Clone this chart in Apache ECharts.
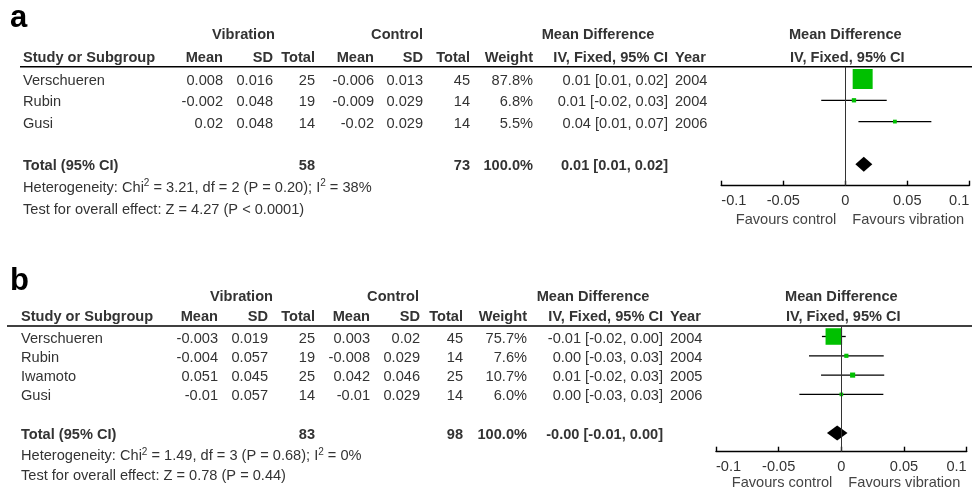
<!DOCTYPE html>
<html>
<head>
<meta charset="utf-8">
<script src="https://cdn.jsdelivr.net/npm/echarts@6/dist/echarts.min.js"></script>
<style>
  html, body { margin: 0; padding: 0; background: #fff; }
  #chart { width: 972px; height: 488px; }
</style>
</head>
<body>
<div id="chart"></div>
<script>
// ---------- Panel a ----------
const studiesA  = ['Verschueren', 'Rubin', 'Gusi'];
const yearsA    = [2004, 2004, 2006];
const vibMeanA  = [0.008, -0.002, 0.02];
const vibSdA    = [0.016, 0.048, 0.048];
const vibNA     = [25, 19, 14];
const ctlMeanA  = [-0.006, -0.009, -0.02];
const ctlSdA    = [0.013, 0.029, 0.029];
const ctlNA     = [45, 14, 14];
const weightA   = [87.8, 6.8, 5.5];
const mdA       = [0.014, 0.007, 0.040];
const loA       = [0.0067, -0.0194, 0.0106];
const hiA       = [0.0213, 0.0334, 0.0694];
const totalNA   = [58, 73];
const totalWA   = 100.0;
const totalEffA = [0.0149, 0.0081, 0.0218];   // pooled MD, lower, upper
const hetA      = ['3.21', '2', '0.20', '38'];  // Chi², df, P, I²
const overallA  = ['4.27', 'P < 0.0001'];

// ---------- Panel b ----------
const studiesB  = ['Verschueren', 'Rubin', 'Iwamoto', 'Gusi'];
const yearsB    = [2004, 2004, 2005, 2006];
const vibMeanB  = [-0.003, -0.004, 0.051, -0.01];
const vibSdB    = [0.019, 0.057, 0.045, 0.057];
const vibNB     = [25, 19, 25, 14];
const ctlMeanB  = [0.003, -0.008, 0.042, -0.01];
const ctlSdB    = [0.02, 0.029, 0.046, 0.029];
const ctlNB     = [45, 14, 25, 14];
const weightB   = [75.7, 7.6, 10.7, 6.0];
const mdB       = [-0.006, 0.004, 0.009, 0.000];
const loB       = [-0.0155, -0.0258, -0.0162, -0.0335];
const hiB       = [0.0035, 0.0338, 0.0342, 0.0335];
const totalNB   = [83, 98];
const totalWB   = 100.0;
const totalEffB = [-0.0033, -0.0115, 0.0049];
const hetB      = ['1.49', '3', '0.68', '0'];
const overallB  = ['0.78', 'P = 0.44'];

// Shared axis
const tickLabels = ['-0.1', '-0.05', '0', '0.05', '0.1'];
const axisMin = -0.1, axisMax = 0.1, axisStep = 0.05;

// ---------- styling / layout ----------
const FONT = '"Liberation Sans", Arial, Helvetica, sans-serif';
const FS = 14.6;
const TXT = '#333';
const GREEN = '#00c000';

const layoutA = {
  grid: { left: 721.3, top: 66.7, width: 248, height: 119 },
  yRange: [-0.577, 5.01],
  cols: [23, 223, 273, 315, 374, 423, 470, 533, 668, 675],
  head1Y: 35, head2Y: 58, groupRight: [275, 423], mdCenter: 598,
  ruleX0: 20, title: 'a', titleY: 18, favoursY: 219.5,
  totalRow: 4, hetRow: 5, testRow: 6.05
};
const layoutB = {
  grid: { left: 716, top: 326, width: 250.7, height: 125.7 },
  yRange: [-0.544, 5.97],
  cols: [21, 218, 268, 315, 370, 420, 463, 527, 663, 670],
  head1Y: 297, head2Y: 317, groupRight: [273, 419], mdCenter: 593,
  ruleX0: 7, title: 'b', titleY: 281, favoursY: 482.7,
  totalRow: 5, hetRow: 6.1, testRow: 7.1
};
const TEXT_DY = 2;

function f2(v) { return v.toFixed(2); }
function ciText(m, l, h) { return f2(m) + ' [' + f2(l) + ', ' + f2(h) + ']'; }
function pct(w) { return w.toFixed(1) + '%'; }

function buildTable(d, L) {
  const lines = [];
  d.studies.forEach((s, i) => {
    lines.push({ row: i, bold: false, cells: [
      [0, s], [1, String(d.vibMean[i])], [2, String(d.vibSd[i])], [3, String(d.vibN[i])],
      [4, String(d.ctlMean[i])], [5, String(d.ctlSd[i])], [6, String(d.ctlN[i])],
      [7, pct(d.weight[i])], [8, ciText(d.md[i], d.lo[i], d.hi[i])], [9, String(d.year[i])]
    ]});
  });
  lines.push({ row: L.totalRow, bold: true, cells: [
    [0, 'Total (95% CI)'], [3, String(d.totalN[0])], [6, String(d.totalN[1])],
    [7, pct(d.totalW)], [8, ciText(d.totalEff[0], d.totalEff[1], d.totalEff[2])]
  ]});
  lines.push({ row: L.hetRow, rich: true, cells: [
    [0, '{t|Heterogeneity: Chi}{s|2}{t| = ' + d.het[0] + ', df = ' + d.het[1] +
        ' (P = ' + d.het[2] + '); I}{s|2}{t| = ' + d.het[3] + '%}']
  ]});
  lines.push({ row: L.testRow, bold: false, cells: [
    [0, 'Test for overall effect: Z = ' + d.overall[0] + ' (' + d.overall[1] + ')']
  ]});
  return lines;
}

function tableRender(lines, L) {
  return function (params, api) {
    const line = lines[params.dataIndex];
    const y = api.coord([0, api.value(1)])[1] + TEXT_DY;
    const children = line.cells.map(([c, text]) => {
      const align = (c === 0 || c === 9) ? 'left' : 'right';
      const style = {
        text: text, fill: TXT, fontSize: FS, fontFamily: FONT,
        fontWeight: line.bold ? 'bold' : 'normal', align: align, verticalAlign: 'middle'
      };
      if (line.rich) {
        style.rich = {
          t: { fill: TXT, fontSize: FS, fontFamily: FONT, lineHeight: 18 },
          s: { fill: TXT, fontSize: 10, fontFamily: FONT, lineHeight: 10, verticalAlign: 'top' }
        };
      }
      return { type: 'text', x: L.cols[c], y: y, style: style };
    });
    return { type: 'group', children: children };
  };
}

// Study marks: CI whisker plus a square sized by the study weight
function forestRender(params, api) {
  const row = api.value(1);
  const c = api.coord([api.value(0), row]);
  const pLo = api.coord([api.value(2), row]);
  const pHi = api.coord([api.value(3), row]);
  const rowPx = api.size([0, 1])[1];
  const s = 0.064 * rowPx * Math.pow(api.value(4), 0.6);
  return { type: 'group', children: [
    { type: 'line', shape: { x1: pLo[0], y1: c[1], x2: pHi[0], y2: c[1] },
      style: { stroke: '#000', lineWidth: 1.3 } },
    { type: 'rect', shape: { x: c[0] - s / 2, y: c[1] - s / 2, width: s, height: s },
      style: { fill: GREEN } }
  ]};
}

// Pooled estimate drawn as a diamond spanning its CI
function diamondRender(params, api) {
  const row = api.value(1);
  const m = api.coord([api.value(0), row]);
  const l = api.coord([api.value(2), row]);
  const h = api.coord([api.value(3), row]);
  const hh = 7.5;
  return { type: 'polygon',
    shape: { points: [[l[0], m[1]], [m[0], m[1] - hh], [h[0], m[1]], [m[0], m[1] + hh]] },
    style: { fill: '#000' } };
}

const panels = [
  { L: layoutA, d: { studies: studiesA, year: yearsA, vibMean: vibMeanA, vibSd: vibSdA, vibN: vibNA,
      ctlMean: ctlMeanA, ctlSd: ctlSdA, ctlN: ctlNA, weight: weightA, md: mdA, lo: loA, hi: hiA,
      totalN: totalNA, totalW: totalWA, totalEff: totalEffA, het: hetA, overall: overallA } },
  { L: layoutB, d: { studies: studiesB, year: yearsB, vibMean: vibMeanB, vibSd: vibSdB, vibN: vibNB,
      ctlMean: ctlMeanB, ctlSd: ctlSdB, ctlN: ctlNB, weight: weightB, md: mdB, lo: loB, hi: hiB,
      totalN: totalNB, totalW: totalWB, totalEff: totalEffB, het: hetB, overall: overallB } }
];

const grid = [], xAxis = [], yAxis = [], series = [], graphics = [];

function headerText(text, x, y, align, bold) {
  return { type: 'text', x: x, y: y, silent: true,
    style: { text: text, fill: TXT, fontSize: FS, fontFamily: FONT,
      fontWeight: bold ? 'bold' : 'normal', align: align, verticalAlign: 'middle' } };
}

panels.forEach((p, gi) => {
  const L = p.L, d = p.d;
  grid.push(Object.assign({ outerBoundsMode: 'none', containLabel: false }, L.grid));
  xAxis.push({
    type: 'value', gridIndex: gi, min: axisMin, max: axisMax, interval: axisStep,
    position: 'bottom',
    axisLine: { show: true, onZero: false, lineStyle: { color: '#000', width: 1.4 } },
    axisTick: { show: true, inside: true, length: 5, lineStyle: { color: '#000', width: 1.4 } },
    axisLabel: {
      margin: 8, color: TXT, fontSize: FS, fontFamily: FONT,
      alignMinLabel: 'left', alignMaxLabel: 'right',
      formatter: v => tickLabels[Math.round((v - axisMin) / axisStep)]
    },
    splitLine: { show: false }
  });
  yAxis.push({ type: 'value', gridIndex: gi, inverse: true, min: L.yRange[0], max: L.yRange[1], show: false });

  const lines = buildTable(d, L);
  series.push({
    type: 'custom', xAxisIndex: gi, yAxisIndex: gi, silent: true, z: 1,
    renderItem: tableRender(lines, L),
    data: lines.map(l => [0, l.row]),
    encode: { x: 0, y: 1 },
    markLine: {
      silent: true, symbol: ['none', 'none'], animation: false,
      label: { show: false },
      lineStyle: { color: '#333', width: 1, type: 'solid' },
      data: [{ xAxis: 0 }]
    }
  });
  series.push({
    type: 'custom', xAxisIndex: gi, yAxisIndex: gi, silent: true, z: 3,
    renderItem: forestRender,
    data: d.md.map((m, i) => [m, i, d.lo[i], d.hi[i], d.weight[i]]),
    encode: { x: 0, y: 1 }
  });
  series.push({
    type: 'custom', xAxisIndex: gi, yAxisIndex: gi, silent: true, z: 3,
    renderItem: diamondRender,
    data: [[d.totalEff[0], L.totalRow, d.totalEff[1], d.totalEff[2]]],
    encode: { x: 0, y: 1 }
  });

  // panel letter
  graphics.push({ type: 'text', x: 10, y: L.titleY, silent: true,
    style: { text: L.title, fill: '#000', fontSize: 31, fontWeight: 'bold', fontFamily: FONT,
      align: 'left', verticalAlign: 'middle' } });
  // column headers
  const c = L.cols;
  graphics.push(headerText('Vibration', L.groupRight[0], L.head1Y, 'right', true));
  graphics.push(headerText('Control', L.groupRight[1], L.head1Y, 'right', true));
  graphics.push(headerText('Mean Difference', L.mdCenter, L.head1Y, 'center', true));
  const plotCenter = L.grid.left + L.grid.width / 2;
  graphics.push(headerText('Mean Difference', plotCenter, L.head1Y, 'center', true));
  graphics.push(headerText('Study or Subgroup', c[0], L.head2Y, 'left', true));
  graphics.push(headerText('Mean', c[1], L.head2Y, 'right', true));
  graphics.push(headerText('SD', c[2], L.head2Y, 'right', true));
  graphics.push(headerText('Total', c[3], L.head2Y, 'right', true));
  graphics.push(headerText('Mean', c[4], L.head2Y, 'right', true));
  graphics.push(headerText('SD', c[5], L.head2Y, 'right', true));
  graphics.push(headerText('Total', c[6], L.head2Y, 'right', true));
  graphics.push(headerText('Weight', c[7], L.head2Y, 'right', true));
  graphics.push(headerText('IV, Fixed, 95% CI', c[8], L.head2Y, 'right', true));
  graphics.push(headerText('Year', c[9], L.head2Y, 'left', true));
  graphics.push(headerText('IV, Fixed, 95% CI', plotCenter + 2, L.head2Y, 'center', true));
  // rule under the headers
  graphics.push({ type: 'line', silent: true,
    shape: { x1: L.ruleX0, y1: L.grid.top, x2: 972, y2: L.grid.top },
    style: { stroke: '#000', lineWidth: 1.4 } });
  // favours labels either side of zero
  graphics.push({ type: 'text', x: plotCenter - 9, y: L.favoursY, silent: true,
    style: { text: 'Favours control', fill: '#444', fontSize: FS, fontFamily: FONT, align: 'right', verticalAlign: 'middle' } });
  graphics.push({ type: 'text', x: plotCenter + 7, y: L.favoursY, silent: true,
    style: { text: 'Favours vibration', fill: '#444', fontSize: FS, fontFamily: FONT, align: 'left', verticalAlign: 'middle' } });
});

const chart = echarts.init(document.getElementById('chart'), null, { renderer: 'canvas' });
chart.setOption({
  animation: false,
  backgroundColor: '#fff',
  grid: grid,
  xAxis: xAxis,
  yAxis: yAxis,
  series: series,
  graphic: { elements: graphics }
});
</script>
</body>
</html>
